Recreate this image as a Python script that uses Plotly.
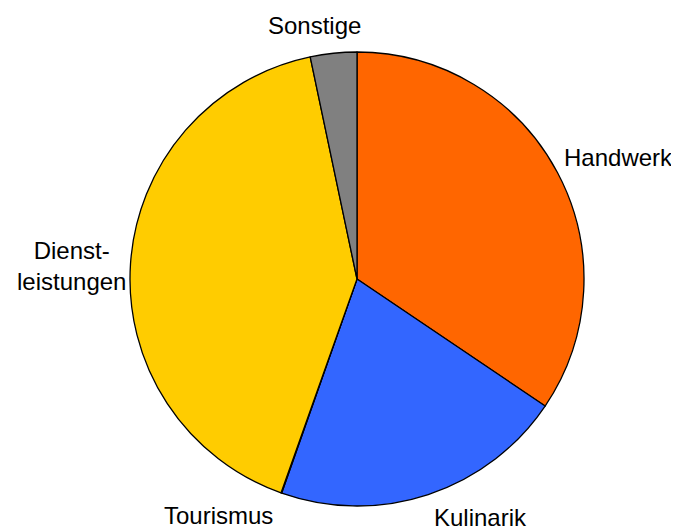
import math
import plotly.graph_objects as go

categories = ["Handwerk", "Kulinarik", "Tourismus", "Dienstleistungen", "Sonstige"]
display_labels = ["Handwerk", "Kulinarik", "Tourismus", "Dienst-<br>leistungen", "Sonstige"]
values = [34.4, 20.9, 0.05, 41.2, 3.3]
colors = ["#FF6600", "#3366FF", "#FFCC00", "#FFCC00", "#808080"]
# small label nudges in pixels (dx right, dy down), style only
label_nudges = [(-6, -9), (0, -4), (-2, -4), (9, 3), (-18, 0)]

W, H = 671, 522
L, T = 122, 44
pw = ph = 454
R_, B = W - L - pw, H - T - ph
radius = min(pw, ph) / 2
cx, cy = L + pw / 2, T + ph / 2
gap = 12
font = dict(family="Liberation Sans, Arial, sans-serif", size=24, color="black")

fig = go.Figure(go.Pie(
    labels=categories,
    values=values,
    textinfo="none",
    sort=False,
    direction="clockwise",
    rotation=0,
    marker=dict(colors=colors, line=dict(color="black", width=1.3)),
    showlegend=False,
    hoverinfo="label+value",
))

total = sum(values)
cum = 0.0
annotations = []
for lab, v, (ndx, ndy) in zip(display_labels, values, label_nudges):
    mid = (cum + v / 2) / total * 2 * math.pi
    cum += v
    s, c = math.sin(mid), math.cos(mid)
    px = cx + (radius + gap) * s + ndx
    py = cy - (radius + gap) * c + ndy
    xa = "left" if s > 0.3 else ("right" if s < -0.3 else "center")
    ya = "bottom" if c > 0.8 else ("top" if c < -0.8 else "middle")
    annotations.append(dict(
        text=lab, x=(px - L) / pw, y=1 - (py - T) / ph,
        xref="paper", yref="paper", xanchor=xa, yanchor=ya,
        showarrow=False, align="center", font=font,
    ))

fig.update_layout(
    width=W, height=H,
    margin=dict(l=L, r=R_, t=T, b=B),
    paper_bgcolor="white",
    plot_bgcolor="white",
    annotations=annotations,
)

fig.write_html("out.html")
